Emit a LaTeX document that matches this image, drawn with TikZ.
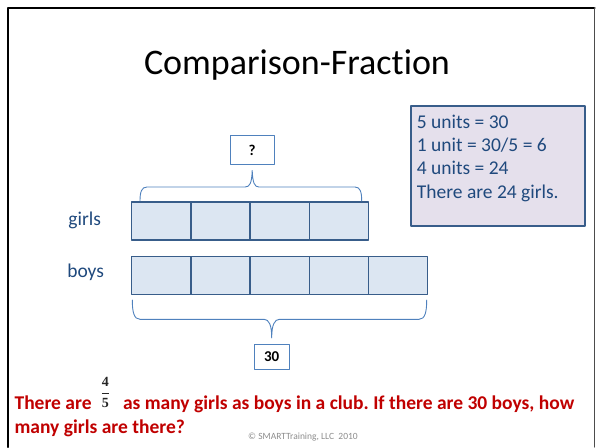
\documentclass[tikz,border=0pt]{standalone}
\usepackage{fontspec}
\setmainfont{Carlito}[Ligatures=NoCommon]
\newfontfamily\fracfont{Liberation Serif}
\usetikzlibrary{positioning}
\frenchspacing

\definecolor{slideblue}{HTML}{1F497D}
\definecolor{cellfill}{HTML}{DCE6F2}
\definecolor{celldraw}{HTML}{385D8A}
\definecolor{notefill}{HTML}{E5E0EC}
\definecolor{bracecol}{HTML}{4F81BD}
\definecolor{slidered}{HTML}{C00000}
\definecolor{footgray}{HTML}{8C8C8C}

\newcommand{\fracdigit}[1]{\mbox{\fracfont\bfseries #1}}

\tikzset{
  cell/.style={draw=celldraw, fill=cellfill, line width=1.5pt, minimum width=59.2pt,
    minimum height=38pt, inner sep=0pt, outer sep=0pt},
  answerbox/.style={draw=bracecol, fill=white, line width=0.9pt, inner sep=0pt,
    font=\fontsize{15}{15}\selectfont\bfseries},
  rowlabel/.style={text=slideblue, inner sep=0pt, font=\fontsize{19.5}{19.5}\selectfont},
  notebox/.style={draw=celldraw, fill=notefill, line width=1.8pt, inner sep=0pt},
  notetext/.style={text=slideblue, inner sep=0pt, align=left,
    font=\fontsize{19.5}{23.4}\selectfont},
  question/.style={text=slidered, inner sep=0pt, font=\fontsize{19.5}{23.4}\selectfont\bfseries},
  bracepath/.style={draw=bracecol, line width=0.9pt},
}

\begin{document}
\begin{tikzpicture}[x=1pt, y=-1pt, line cap=round, line join=round]
  \useasboundingbox (0,0) rectangle (596,447);

  % slide frame
  \draw[line width=2.6pt] (7.8,447) -- (7.8,7.8) -- (594.5,7.8);
  \draw[line width=1.3pt, black!70] (594.5,7.8) -- (594.5,447);

  % title
  \node[inner sep=0pt, anchor=base, font=\fontsize{36}{36}\selectfont] (title) at (297,74) {Comparison-Fraction};

  % unit bars
  \foreach \i in {1,...,4} \node[cell] (g\i) at ({161.3+59.2*(\i-1)}, 220.8) {};
  \foreach \i in {1,...,5} \node[cell] (b\i) at ({161.3+59.2*(\i-1)}, 275.5) {};
  \node[rowlabel, left=30.5pt of g1] (girls) {girls};
  \node[rowlabel, left=27.5pt of b1, yshift=3pt] (boys) {boys};

  % unknown and given totals
  \node[answerbox, minimum width=44pt, minimum height=28.6pt] (ask) at (252.2,150) {?};
  \node[answerbox, minimum width=35.3pt, minimum height=25.3pt] (total) at (271.7,356.7) {30};

  % braces
  \coordinate (topL) at (140,201);
  \coordinate (topR) at (361.7,201);
  \coordinate (topTip) at ([yshift=-5.7pt]ask.south);
  \draw[bracepath] (topL) .. controls (140,192) and (141.5,187) .. (147,187)
    -- (245,187) .. controls (250,187) and (251.7,183) .. (topTip)
    .. controls (252.7,183) and (254.5,187) .. (259,187)
    -- (355,187) .. controls (360.2,187) and (361.7,192) .. (topR);
  \coordinate (botL) at (132.3,300);
  \coordinate (botR) at (426.7,300);
  \coordinate (botTip) at ([yshift=5.7pt]total.north);
  \draw[bracepath] (botL) .. controls (132.3,312) and (134,319.3) .. (140,319.3)
    -- (264,319.3) .. controls (269,319.3) and (271.7,325) .. (botTip)
    .. controls (271.7,325) and (274.5,319.3) .. (279.5,319.3)
    -- (419,319.3) .. controls (425,319.3) and (426.7,312) .. (botR);

  % working out
  \node[notebox, minimum width=174pt, minimum height=120pt, anchor=north west] (note) at (410,105) {};
  \node[notetext, anchor=north west] (workings) at (416.7,114.4)
    {5 units = 30\\1 unit = 30/5 = 6\\4 units = 24\\There are 24 girls.};

  % problem statement
  \node[question, anchor=base west] (line1) at (14.4,409)
    {There are\hspace{9pt}\raisebox{12pt}{\color{black!85}\fontsize{14}{14}\selectfont\boldmath$\displaystyle\frac{\fracdigit{4}}{\fracdigit{5}}$}\hspace{13pt}as many girls as boys in a club. If there are 30 boys, how};
  \node[question, anchor=base west] (line2) at (14.4,433) {many girls are there?};

  % footer
  \node[inner sep=0pt, text=footgray, font=\fontsize{9.5}{9.5}\selectfont] (footer) at (303,437) {\textcopyright{} SMARTTraining, LLC\ \ 2010};
\end{tikzpicture}
\end{document}
